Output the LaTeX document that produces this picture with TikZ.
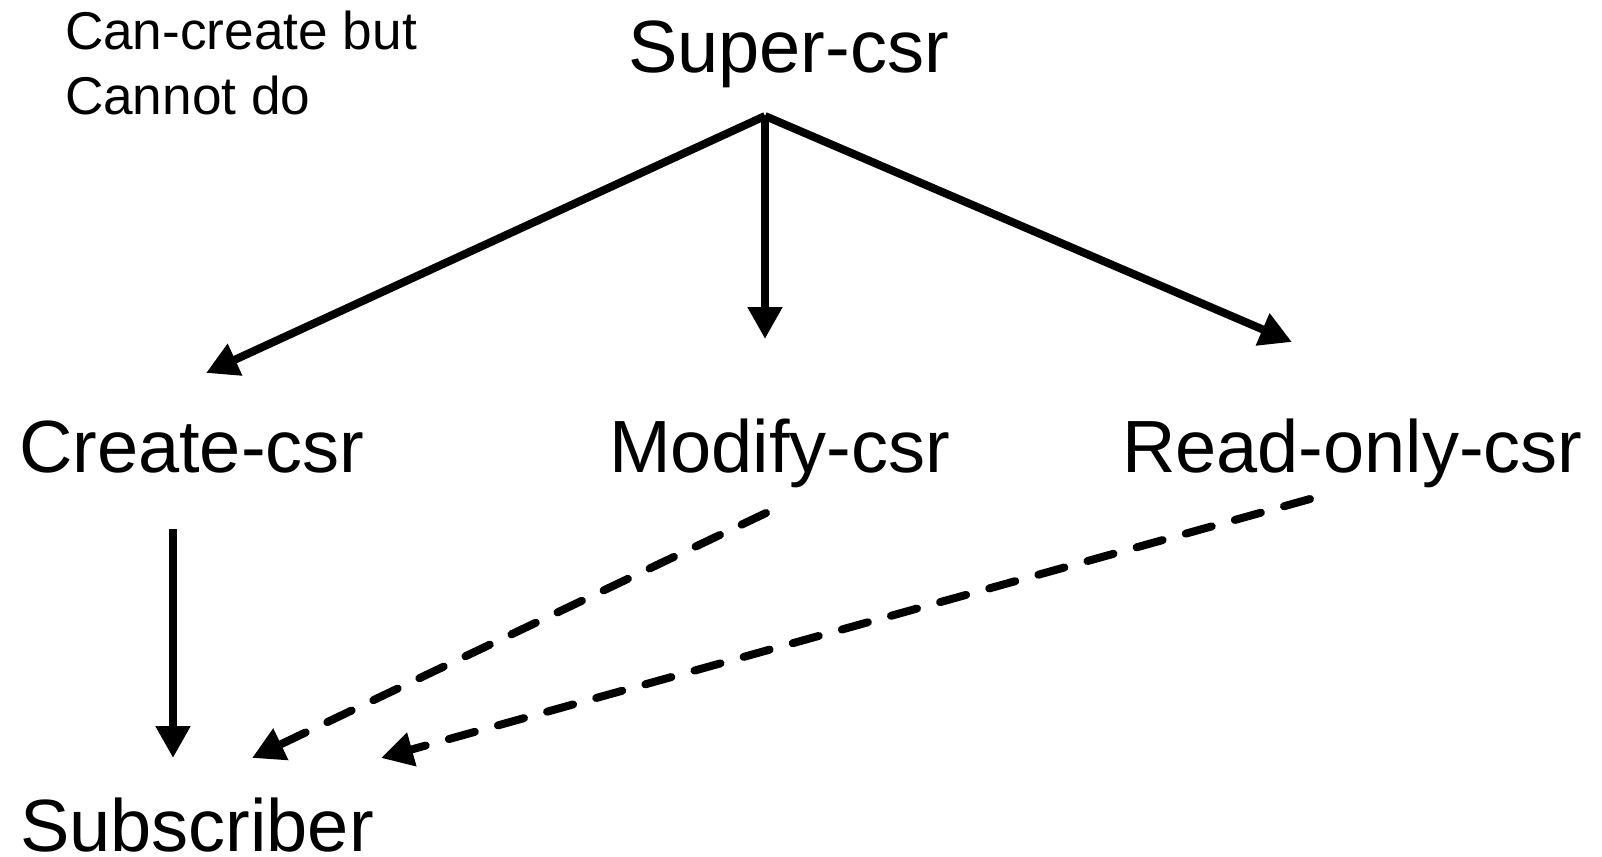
\documentclass[tikz,border=0pt]{standalone}
\usepackage{fontspec}
\setmainfont{Liberation Sans}
\usetikzlibrary{arrows.meta}

\begin{document}
\begin{tikzpicture}[x=0.5pt,y=-0.5pt,line width=4pt,
  lbl/.style={inner sep=0pt,anchor=base west,font=\fontsize{37}{44}\selectfont},
  note/.style={inner sep=0pt,anchor=base west,align=left,font=\fontsize{26.6}{32.5}\selectfont},
  arr/.style={-{Triangle[length=16pt,width=16.5pt]}},
  dsh/.style={arr,dash pattern=on 13.5pt off 12pt,line cap=round}]

\useasboundingbox (0,0) rectangle (1602,857);

% Labels
\node[note] (note) at (61,114) {Can-create but\\Cannot do};
\node[lbl] (super) at (624,72) {Super-csr};
\node[lbl] (create) at (15,472) {Create-csr};
\node[lbl] (modify) at (605,472) {Modify-csr};
\node[lbl] (readonly) at (1118,472) {Read-only-csr};
\node[lbl] (subscriber) at (16,851) {Subscriber};

% Connector ends
\coordinate (apex) at (765,116);
\coordinate (createtip) at (206,373);
\coordinate (modifytip) at (765,339);
\coordinate (readtip) at (1292,342);
\coordinate (createfoot) at (173,529);
\coordinate (modifyfoot) at (766,513);
\coordinate (readfoot) at (1310,499);
\coordinate (subtipA) at (173,758);
\coordinate (subtipB) at (252,758);
\coordinate (subtipC) at (381,758);

% Super-csr to the three below
\draw[arr] (apex) -- (createtip);
\draw[arr] (apex) -- (modifytip);
\draw[arr] (apex) -- (readtip);

% Down to Subscriber
\draw[arr] (createfoot) -- (subtipA);
\draw[dsh] (modifyfoot) -- (subtipB);
\draw[dsh] (readfoot) -- (subtipC);

\end{tikzpicture}
\end{document}
